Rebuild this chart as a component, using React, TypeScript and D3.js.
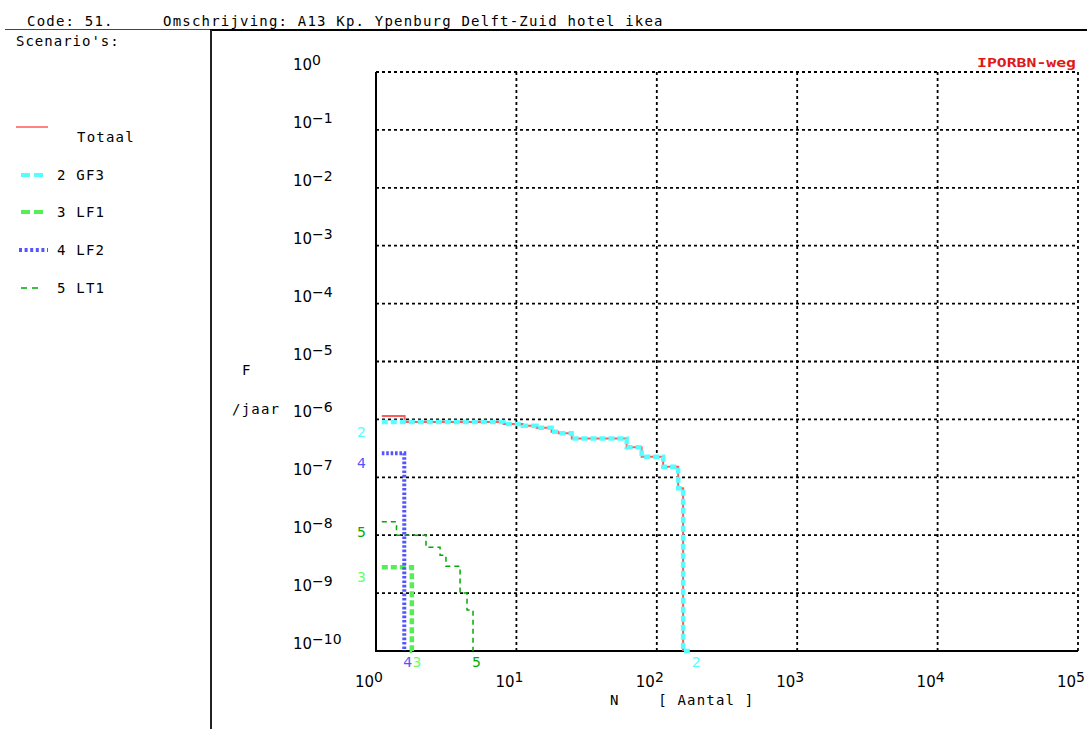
import React from 'react';
import * as d3 from 'd3';

// FN-curve: frequency F (/jaar) vs number of victims N
const W = 1087;
const H = 729;

const xDecades = [0, 1, 2, 3, 4, 5];
const yDecades = [0, -1, -2, -3, -4, -5, -6, -7, -8, -9, -10];

// Totaal (sum of scenarios)
const totaalN = [1.1, 1.6, 8.1, 11.1, 13.9, 17.8, 19.9, 24.8, 61, 78, 111, 142, 154];
const totaalF = [1.15e-6, 9.0e-7, 8.3e-7, 7.8e-7, 7.2e-7, 6.1e-7, 5.75e-7, 4.7e-7, 3.3e-7, 2.27e-7, 1.52e-7, 6.5e-8, 1e-10];

// 2 GF3
const gf3N = [1.1, 8.1, 11.1, 13.9, 17.8, 19.9, 24.8, 61, 78, 111, 142, 154, 180];
const gf3F = [9.0e-7, 8.3e-7, 7.8e-7, 7.2e-7, 6.1e-7, 5.75e-7, 4.7e-7, 3.3e-7, 2.27e-7, 1.52e-7, 6.5e-8, 1e-10, 1e-10];

// 3 LF1
const lf1N = [1.1, 1.8, 1.85];
const lf1F = [2.8e-9, 1e-10, 1e-10];

// 4 LF2
const lf2N = [1.1, 1.59];
const lf2F = [2.6e-7, 1e-10];

// 5 LT1
const lt1N = [1.1, 1.4, 2.27, 2.86, 3.15, 3.97, 4.45, 4.91];
const lt1F = [1.7e-8, 1.0e-8, 6.2e-9, 4.5e-9, 2.9e-9, 1.0e-9, 5.1e-10, 1e-10];

const legendLabels = ['Totaal', '2 GF3', '3 LF1', '4 LF2', '5 LT1'];
const seriesTags = ['', '2', '3', '4', '5'];

const MONO = '"DejaVu Sans Mono", "Liberation Mono", monospace';
const SANS = '"DejaVu Sans", Verdana, sans-serif';

type Series = {
  tag: string;
  label: string;
  n: number[];
  f: number[];
  color: string;
  width: number;
  dash: string | null;
  legendDash: string | null;
};

// drawing order: red total underneath, blue dotted on top
const series: Series[] = [
  { tag: seriesTags[0], label: legendLabels[0], n: totaalN, f: totaalF, color: '#ff5a5a', width: 2, dash: null, legendDash: null },
  { tag: seriesTags[1], label: legendLabels[1], n: gf3N, f: gf3F, color: '#55ffff', width: 4.5, dash: '6,3', legendDash: '9,4' },
  { tag: seriesTags[2], label: legendLabels[2], n: lf1N, f: lf1F, color: '#55ee55', width: 4.5, dash: '6,3', legendDash: '9,4' },
  { tag: seriesTags[4], label: legendLabels[4], n: lt1N, f: lt1F, color: '#00aa00', width: 1.5, dash: '5,4', legendDash: '6,5' },
  { tag: seriesTags[3], label: legendLabels[3], n: lf2N, f: lf2F, color: '#5555ff', width: 4, dash: '2.6,1.8', legendDash: '3,2.6' },
];

const tagColor: Record<string, string> = {
  '2': '#55ffff',
  '3': '#66ff66',
  '4': '#5555ff',
  '5': '#00aa00',
};

const x = d3.scaleLog().domain([1, 1e5]).range([376, 1078]);
const y = d3.scaleLog().domain([1e-10, 1]).range([651, 72]);

const stepLine = d3
  .line<[number, number]>()
  .x((d) => x(d[0]))
  .y((d) => y(d[1]))
  .curve(d3.curveStepAfter);

const sup = (e: number) => (e < 0 ? '\u2212' + Math.abs(e) : String(e));

export default function App() {
  const [x0, x1] = x.range();
  const [y0, y1] = y.range(); // y0 bottom, y1 top
  const legendY = [127, 175, 212, 250, 288];

  return (
    <div style={{ position: 'absolute', left: 0, top: 0, width: W, height: H, background: '#fff' }}>
      <svg width={W} height={H} style={{ display: 'block' }}>
        <rect width={W} height={H} fill="#fff" />

        {/* header */}
        <text x={27} y={26} fontFamily={MONO} fontSize={14} letterSpacing={1.2} fill="#000">
          Code: 51.
        </text>
        <text x={163} y={26} fontFamily={MONO} fontSize={14} letterSpacing={1.2} fill="#000">
          Omschrijving: A13 Kp. Ypenburg Delft-Zuid hotel ikea
        </text>
        <line x1={5} x2={211} y1={29.5} y2={29.5} stroke="#444" strokeWidth={1} />
        <line x1={210} x2={W} y1={30} y2={30} stroke="#000" strokeWidth={2} />
        <line x1={211} x2={211} y1={30} y2={H} stroke="#222" strokeWidth={2} />

        {/* legend */}
        <text x={16} y={46} fontFamily={MONO} fontSize={14} letterSpacing={1} fill="#000">
          Scenario's:
        </text>
        {legendLabels.map((lbl, i) => {
          const s = series.find((d) => d.label === lbl)!;
          const ly = legendY[i];
          if (i === 0) {
            return (
              <g key={lbl}>
                <line x1={16} x2={48} y1={ly} y2={ly} stroke={s.color} strokeWidth={1.5} />
                <text x={77} y={ly + 15} fontFamily={MONO} fontSize={14} letterSpacing={1.2} fill="#000">
                  {lbl}
                </text>
              </g>
            );
          }
          const dotted = lbl === '4 LF2';
          return (
            <g key={lbl}>
              <line
                x1={dotted ? 19 : 21}
                x2={dotted ? 48 : 43}
                y1={ly}
                y2={ly}
                stroke={s.color}
                strokeWidth={s.width > 2 ? 4 : 1.5}
                strokeDasharray={s.legendDash || undefined}
              />
              <text x={57} y={ly + 5} fontFamily={MONO} fontSize={14} letterSpacing={1.2} fill="#000">
                {lbl}
              </text>
            </g>
          );
        })}

        {/* grid */}
        {yDecades.slice(0, -1).map((e) => (
          <line
            key={'gy' + e}
            x1={x0}
            x2={x1}
            y1={y(Math.pow(10, e))}
            y2={y(Math.pow(10, e))}
            stroke="#000"
            strokeWidth={1.8}
            strokeDasharray="3,3"
          />
        ))}
        {xDecades.slice(1).map((e) => (
          <line
            key={'gx' + e}
            x1={x(Math.pow(10, e))}
            x2={x(Math.pow(10, e))}
            y1={y1}
            y2={y0}
            stroke="#000"
            strokeWidth={1.8}
            strokeDasharray="3,3"
          />
        ))}

        {/* axes */}
        <line x1={x0} x2={x0} y1={y1} y2={y0 + 1} stroke="#000" strokeWidth={2} />
        <line x1={x0} x2={x1} y1={y0} y2={y0} stroke="#000" strokeWidth={2} />

        {/* y tick labels */}
        {yDecades.map((e) => (
          <text key={'ty' + e} x={293} y={y(Math.pow(10, e)) - 2} fontFamily={SANS} fontSize={15} fill="#000">
            10
            <tspan dy={-5} fontSize={14}>
              {sup(e)}
            </tspan>
          </text>
        ))}

        {/* x tick labels */}
        {xDecades.map((e) => (
          <text key={'tx' + e} x={x(Math.pow(10, e)) - 21} y={687} fontFamily={SANS} fontSize={15} fill="#000">
            10
            <tspan dy={-5} fontSize={14}>
              {sup(e)}
            </tspan>
          </text>
        ))}

        {/* axis titles */}
        <text x={242} y={375} fontFamily={MONO} fontSize={14} fill="#000">
          F
        </text>
        <text x={232} y={414} fontFamily={MONO} fontSize={14} letterSpacing={1.2} fill="#000">
          /jaar
        </text>
        <text x={610} y={705} fontFamily={MONO} fontSize={14} letterSpacing={1.2} fill="#000" style={{ whiteSpace: 'pre' }}>
          {'N    [ Aantal ]'}
        </text>

        <text
          x={1076}
          y={67}
          textAnchor="end"
          fontFamily={MONO}
          fontWeight="bold"
          fontSize={12}
          fill="#e01818"
          textLength={99}
          lengthAdjust="spacingAndGlyphs"
        >
          IPORBN-weg
        </text>

        {/* curves */}
        {series.map((s) => {
          const pts = s.n.map((n, i) => [n, s.f[i]] as [number, number]);
          return (
            <path
              key={'s' + s.label}
              d={stepLine(pts) || ''}
              fill="none"
              stroke={s.color}
              strokeWidth={s.width}
              strokeDasharray={s.dash || undefined}
            />
          );
        })}

        {/* series tags */}
        {series
          .filter((s) => s.tag)
          .map((s) => (
            <g key={'tag' + s.tag} fontFamily={SANS} fontSize={14} fill={tagColor[s.tag]}>
              <text x={357} y={y(s.f[0]) + 15}>
                {s.tag}
              </text>
              <text x={x(s.n[s.n.length - 1]) - 1} y={667}>
                {s.tag}
              </text>
            </g>
          ))}
      </svg>
    </div>
  );
}
